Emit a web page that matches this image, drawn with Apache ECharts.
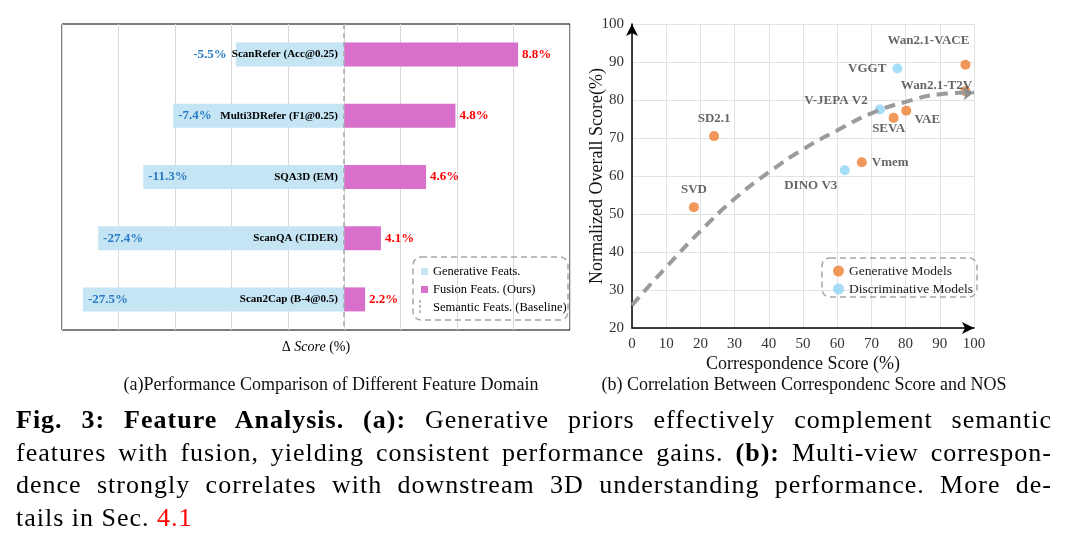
<!DOCTYPE html>
<html>
<head>
<meta charset="utf-8">
<script src="https://cdn.jsdelivr.net/npm/echarts@6/dist/echarts.min.js"></script>
<style>
  body { margin: 0; background: #fff; }
  #chart { position: absolute; left: 0; top: 0; width: 1068px; height: 549px; }
  #caption { position: absolute; left: 16px; top: 404px; width: 1036px;
    font-family: 'Liberation Serif', serif; font-size: 26px; line-height: 32.7px; color: #000; letter-spacing: 1px; }
  #caption div { text-align: justify; text-align-last: justify; white-space: nowrap; }
  #caption div.last { text-align-last: left; }
</style>
</head>
<body>
<div id="chart"></div>
<div id="caption">
  <div><b>Fig. 3: Feature Analysis. (a):</b> Generative priors effectively complement semantic</div>
  <div>features with fusion, yielding consistent performance gains. <b>(b):</b> Multi-view correspon-</div>
  <div>dence strongly correlates with downstream 3D understanding performance. More de-</div>
  <div class="last">tails in Sec. <span style="color:#ff0000">4.1</span></div>
</div>
<script>
// (a) 特征域对比
var tasks = ['ScanRefer (Acc@0.25)', 'Multi3DRefer (F1@0.25)', 'SQA3D (EM)', 'ScanQA (CIDER)', 'Scan2Cap (B-4@0.5)'];
var generativeBar = [-19.2, -30.3, -35.6, -43.6, -46.3];
var fusionBar = [30.8, 19.7, 14.5, 6.5, 3.7];
var generativeText = ['-5.5%', '-7.4%', '-11.3%', '-27.4%', '-27.5%'];
var fusionText = ['8.8%', '4.8%', '4.6%', '4.1%', '2.2%'];

// (b) 对应分数 vs NOS
var genModels = ['SD2.1', 'SVD', 'Vmem', 'SEVA', 'VAE', 'Wan2.1-VACE', 'Wan2.1-T2V'];
var genX = [24.0, 18.1, 67.2, 76.5, 80.2, 97.5, 97.5];
var genY = [70.5, 51.8, 63.6, 75.3, 77.2, 89.3, 82.3];
var discModels = ['DINO V3', 'V-JEPA V2', 'VGGT'];
var discX = [62.2, 72.5, 77.6];
var discY = [61.5, 77.5, 88.3];
var trendX = [0, 10, 20, 30, 40, 50, 60, 70, 80, 90, 100];
var trendY = [26, 36, 45.5, 54, 61, 67, 72, 76.5, 79.5, 81.5, 82];
var xTicks = [0, 10, 20, 30, 40, 50, 60, 70, 80, 90, 100];
var yTicks = [20, 30, 40, 50, 60, 70, 80, 90, 100];

var serif = 'Liberation Serif';

// 标签位置
var labelPlace = {
  'SD2.1': { position: 'top', distance: 6 },
  'SVD': { position: 'top', distance: 6 },
  'Vmem': { position: 'right', distance: 5 },
  'SEVA': { position: 'inside', offset: [-5, 11] },
  'VAE': { position: 'inside', offset: [21, 9] },
  'Wan2.1-VACE': { position: 'inside', offset: [-37, -24] },
  'Wan2.1-T2V': { position: 'inside', offset: [-29, -6] },
  'DINO V3': { position: 'inside', offset: [-34, 15] },
  'V-JEPA V2': { position: 'inside', offset: [-44, -9] },
  'VGGT': { position: 'left', distance: 6 }
};

function points(names, xs, ys) {
  return names.map(function (n, i) {
    return { name: n, value: [xs[i], ys[i]], label: labelPlace[n] };
  });
}

var trendData = trendX.map(function (x, i) {
  var p = { value: [x, trendY[i]] };
  if (i === trendX.length - 1) {
    p.symbol = 'arrow';
    p.symbolSize = [10, 11];
    p.symbolRotate = -84;
  }
  return p;
});

var chart = echarts.init(document.getElementById('chart'));

var option = {
  animation: false,
  textStyle: { fontFamily: serif },
  grid: [
    { left: 62, top: 24, width: 508, height: 306, show: true, borderColor: '#000', borderWidth: 1 },
    { left: 632, top: 24, width: 342, height: 304 }
  ],
  legend: [
    {
      orient: 'vertical', left: 416, top: 260, itemWidth: 7, itemHeight: 7, itemGap: 5,
      textStyle: { fontFamily: serif, fontSize: 12.5, color: '#000' },
      data: [
        { name: 'Generative Feats.', icon: 'rect' },
        { name: 'Fusion Feats. (Ours)', icon: 'rect' },
        { name: 'Semantic Feats. (Baseline)', icon: 'none' }
      ]
    },
    {
      orient: 'vertical', left: 828, top: 259, itemWidth: 11, itemHeight: 11, itemGap: 4,
      textStyle: { fontFamily: serif, fontSize: 13.5, color: '#222' },
      data: [
        { name: 'Generative Models', icon: 'circle' },
        { name: 'Discriminative Models', icon: 'circle' }
      ]
    }
  ],
  xAxis: [
    {
      type: 'value', gridIndex: 0, min: -50, max: 40, interval: 10,
      axisLabel: { show: false }, axisLine: { show: false }, axisTick: { show: false },
      splitLine: { lineStyle: { color: '#D9D9D9' } },
      name: '{a|Δ }{b|Score}{a| (%)}', nameLocation: 'middle', nameGap: 10, nameMoveOverlap: false,
      nameTextStyle: {
        rich: {
          a: { fontFamily: serif, fontSize: 14, color: '#000' },
          b: { fontFamily: serif, fontSize: 14, fontStyle: 'italic', color: '#000' }
        }
      }
    },
    {
      type: 'value', gridIndex: 1, min: xTicks[0], max: xTicks[xTicks.length - 1], interval: 10,
      axisLine: { lineStyle: { color: '#000', width: 1.5 }, symbol: ['none', 'arrow'], symbolSize: [9, 12] },
      axisTick: { show: false },
      axisLabel: { fontFamily: serif, fontSize: 15, color: '#333', margin: 9 },
      splitLine: { lineStyle: { color: '#E2E2E2' } },
      name: 'Correspondence Score (%)', nameLocation: 'middle', nameGap: 27, nameMoveOverlap: false,
      nameTextStyle: { fontFamily: serif, fontSize: 18, color: '#111' }
    }
  ],
  yAxis: [
    {
      type: 'category', gridIndex: 0, data: tasks, inverse: true, offset: -282, z: 10,
      axisLine: { show: false }, axisTick: { show: false }, splitLine: { show: false },
      axisLabel: { margin: 6, fontFamily: serif, fontSize: 11, fontWeight: 'bold', color: '#000' }
    },
    {
      type: 'value', gridIndex: 1, min: yTicks[0], max: yTicks[yTicks.length - 1], interval: 10,
      axisLine: { show: true, lineStyle: { color: '#000', width: 1.5 }, symbol: ['none', 'arrow'], symbolSize: [9, 12] },
      axisTick: { show: false },
      axisLabel: { fontFamily: serif, fontSize: 15, color: '#333', margin: 8 },
      splitLine: { lineStyle: { color: '#E2E2E2' } },
      name: 'Normalized Overall Score(%)', nameLocation: 'middle', nameGap: 26, nameMoveOverlap: false,
      nameTextStyle: { fontFamily: serif, fontSize: 18, color: '#111' }
    }
  ],
  series: [
    {
      name: 'Generative Feats.', type: 'bar', xAxisIndex: 0, yAxisIndex: 0,
      barWidth: 24, barGap: '-100%',
      itemStyle: { color: '#C5E4F4' },
      data: generativeBar.map(function (v, i) {
        return i === 0 ? { value: v, label: { position: 'left', distance: 9 } } : v;
      }),
      label: {
        show: true, position: 'insideLeft', distance: 5,
        formatter: function (p) { return generativeText[p.dataIndex]; },
        fontFamily: serif, fontSize: 13, fontWeight: 'bold', color: '#2A7BC4'
      }
    },
    {
      name: 'Fusion Feats. (Ours)', type: 'bar', xAxisIndex: 0, yAxisIndex: 0,
      barWidth: 24,
      itemStyle: { color: '#D76FCB' },
      data: fusionBar,
      label: {
        show: true, position: 'right', distance: 4,
        formatter: function (p) { return fusionText[p.dataIndex]; },
        fontFamily: serif, fontSize: 13, fontWeight: 'bold', color: '#FF0000'
      },
      markLine: {
        silent: true, symbol: 'none', label: { show: false },
        lineStyle: { color: '#A6A6A6', type: [5, 4], width: 1.5 },
        data: [{ xAxis: 0 }]
      }
    },
    {
      name: 'Semantic Feats. (Baseline)', type: 'line', xAxisIndex: 0, yAxisIndex: 0,
      data: [], itemStyle: { color: '#A6A6A6' }
    },
    {
      name: 'trend', type: 'line', xAxisIndex: 1, yAxisIndex: 1, smooth: true,
      symbol: 'none', showSymbol: true, showAllSymbol: true, z: 3, silent: true,
      lineStyle: { color: '#9B9B9B', width: 4, type: [11, 7] },
      itemStyle: { color: '#8C8C8C' },
      data: trendData
    },
    {
      name: 'Generative Models', type: 'scatter', xAxisIndex: 1, yAxisIndex: 1,
      symbolSize: 10, itemStyle: { color: '#ED7D31' }, z: 2,
      label: { show: true, formatter: '{b}', fontFamily: serif, fontSize: 13, fontWeight: 'bold', color: '#3F3F3F' },
      data: points(genModels, genX, genY)
    },
    {
      name: 'Discriminative Models', type: 'scatter', xAxisIndex: 1, yAxisIndex: 1,
      symbolSize: 10, itemStyle: { color: '#8ED6F4' }, z: 2,
      label: { show: true, formatter: '{b}', fontFamily: serif, fontSize: 13, fontWeight: 'bold', color: '#3F3F3F' },
      data: points(discModels, discX, discY)
    }
  ],
  graphic: [
    { type: 'rect', shape: { x: 413, y: 257, width: 155, height: 63, r: 8 },
      style: { fill: 'none', stroke: '#A6A6A6', lineWidth: 1.5, lineDash: [6, 4] }, z: 20 },
    { type: 'line', shape: { x1: 420, y1: 300, x2: 420, y2: 314 },
      style: { stroke: '#A6A6A6', lineWidth: 1.5, lineDash: [3, 2] }, z: 20 },
    { type: 'rect', shape: { x: 822, y: 258, width: 155, height: 39, r: 8 },
      style: { fill: 'none', stroke: '#A6A6A6', lineWidth: 1.5, lineDash: [6, 4] }, z: 20 },
    { type: 'text', x: 331, y: 385,
      style: { text: '(a)Performance Comparison of Different Feature Domain', font: '18px "Liberation Serif"', fill: '#111', textAlign: 'center', textVerticalAlign: 'middle' } },
    { type: 'text', x: 804, y: 385,
      style: { text: '(b) Correlation Between Correspondenc Score and NOS', font: '18px "Liberation Serif"', fill: '#111', textAlign: 'center', textVerticalAlign: 'middle' } }
  ]
};

chart.setOption(option);
</script>
</body>
</html>
